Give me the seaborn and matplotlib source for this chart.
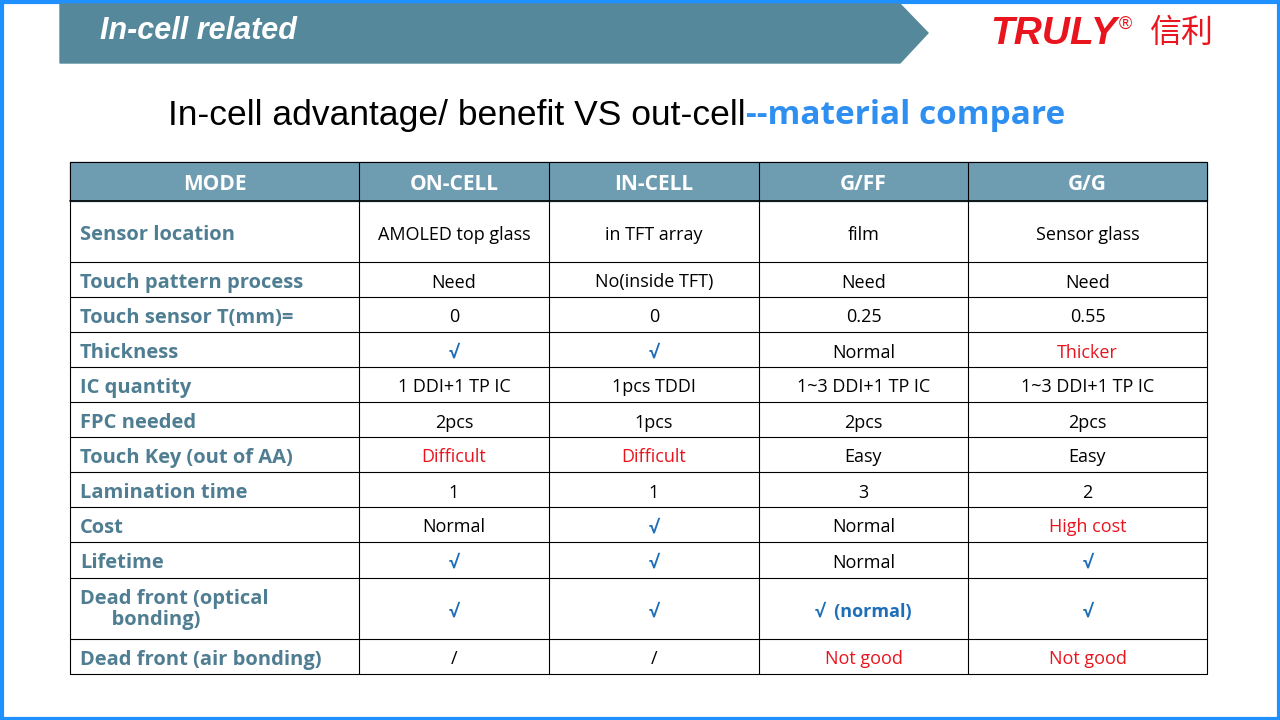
import matplotlib
matplotlib.use("Agg")
import matplotlib.pyplot as plt
from matplotlib.patches import Polygon, Rectangle
import seaborn as sns

sns.set_theme(style="white")
plt.rcParams['font.family'] = ['Open Sans', 'Noto Sans CJK SC', 'DejaVu Sans']

# table content
columns = ["MODE", "ON-CELL", "IN-CELL", "G/FF", "G/G"]
row_labels = ["Sensor location", "Touch pattern process", "Touch sensor T(mm)=", "Thickness",
              "IC quantity", "FPC needed", "Touch Key (out of AA)", "Lamination time", "Cost",
              "Lifetime", "Dead front (optical\n      bonding)", "Dead front (air bonding)"]
on_cell = ["AMOLED top glass", "Need", "0", "√", "1 DDI+1 TP IC", "2pcs", "Difficult", "1",
           "Normal", "√", "√", "/"]
in_cell = ["in TFT array", "No(inside TFT)", "0", "√", "1pcs TDDI", "1pcs", "Difficult", "1",
           "√", "√", "√", "/"]
g_ff = ["film", "Need", "0.25", "Normal", "1~3 DDI+1 TP IC", "2pcs", "Easy", "3",
        "Normal", "Normal", "√  (normal)", "Not good"]
g_g = ["Sensor glass", "Need", "0.55", "Thicker", "1~3 DDI+1 TP IC", "2pcs", "Easy", "2",
       "High cost", "√", "√", "Not good"]
red_words = {"Difficult", "Thicker", "High cost", "Not good"}

col_edges = [70, 359, 549, 759, 968, 1207]
row_edges = [162, 201, 262, 297, 332, 367, 402, 437, 472, 507, 542, 578, 639, 674]

HEAD = "#6e9db2"
LABEL = "#4f7d92"
BLUE = "#1f6fb8"
RED = "#e8141e"
ARIAL = ["Liberation Sans", "DejaVu Sans"]

fig = plt.figure(figsize=(12.8, 7.2), dpi=100)
ax = fig.add_axes([0, 0, 1, 1])
ax.set_xlim(0, 1280)
ax.set_ylim(720, 0)
ax.axis("off")
inv = ax.transData.inverted()


def right_edge(t):
    fig.canvas.draw()
    return inv.transform((t.get_window_extent().x1, 0))[0]


# slide frame
ax.add_patch(Rectangle((1.5, 1.5), 1277, 717, fill=False, ec="#1e90ff", lw=3))

# banner
ax.add_patch(Polygon([(60, 4), (900, 4), (928, 33), (900, 63), (60, 63)], color="#56889b"))
ax.text(100, 31, "In-cell related", color="white", fontsize=22, fontstyle="italic",
        fontweight="bold", va="center", family=ARIAL)
tl = ax.text(990, 34, "TRULY", color=RED, fontsize=28, fontstyle="italic", fontweight="bold",
             va="center", family=ARIAL)
xr = right_edge(tl)
ax.text(xr + 2, 24, "®", color=RED, fontsize=13, va="center", family=ARIAL)
ax.text(1150, 33, "信利", color=RED, fontsize=23, va="center",
        family=["Noto Sans CJK SC", "DejaVu Sans"])

# title
t1 = ax.text(168, 112, "In-cell advantage/ benefit VS out-cell", color="black", fontsize=25.5,
             va="center_baseline", family=ARIAL)
ax.text(right_edge(t1), 112, "--material compare", color="#2e8ff0", fontsize=24,
        fontweight="bold", va="center_baseline")

# header row
ax.add_patch(Rectangle((col_edges[0], row_edges[0]), col_edges[-1] - col_edges[0],
                       row_edges[1] - row_edges[0], color=HEAD))
for i, c in enumerate(columns):
    xc = (col_edges[i] + col_edges[i + 1]) / 2
    ax.text(xc, (row_edges[0] + row_edges[1]) / 2 + 1, c, color="white", fontsize=15,
            fontweight="bold", ha="center", va="center_baseline")

# grid lines
for y in row_edges:
    ax.plot([col_edges[0], col_edges[-1]], [y, y], color="black",
            lw=1.2 if y == row_edges[1] else 0.8)
for x in col_edges:
    ax.plot([x, x], [row_edges[0], row_edges[-1]], color="black", lw=0.8)

# body
for r, label in enumerate(row_labels):
    yc = (row_edges[r + 1] + row_edges[r + 2]) / 2
    ax.text(80, yc + 1, label, color=LABEL, fontsize=14.5, fontweight="bold",
            va="center_baseline" if "\n" not in label else "center", linespacing=1.05)
    for c, vals in enumerate([on_cell, in_cell, g_ff, g_g]):
        v = vals[r]
        xc = (col_edges[c + 1] + col_edges[c + 2]) / 2
        if v.startswith("√"):
            color, weight = BLUE, "bold"
        elif v in red_words:
            color, weight = RED, "normal"
        else:
            color, weight = "black", "normal"
        ax.text(xc, yc + 1, v, color=color, fontsize=13, fontweight=weight,
                ha="center", va="center_baseline")

fig.savefig("out.png", dpi=100)
